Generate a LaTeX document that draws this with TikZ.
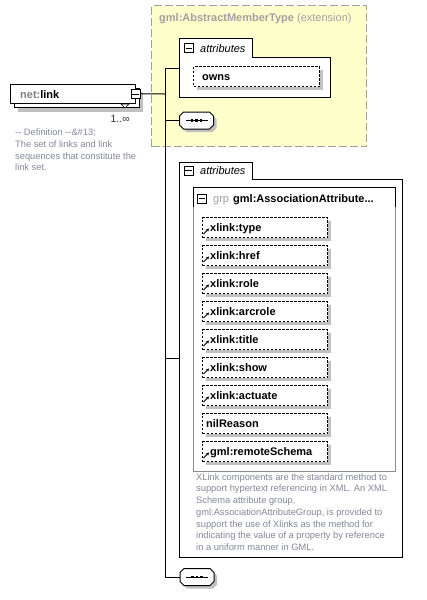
\documentclass[tikz,border=0pt]{standalone}
\usepackage{fontspec}
\setmainfont{Liberation Sans}
\usetikzlibrary{arrows.meta}
\definecolor{ybg}{HTML}{FFFFCC}
\definecolor{yborder}{HTML}{A0A0A0}
\definecolor{shad}{HTML}{C0C0C0}
\definecolor{desc}{HTML}{85879A}
\definecolor{ttl}{HTML}{A0A0A0}
\definecolor{grpline}{HTML}{8C8C8C}
\newcommand{\seqicon}[3]{%
  \begin{scope}[shift={(#2,#3)}]
    \fill[shad] (-10,-5.5) -- (16,-5.5) -- (20,-1.5) -- (20,7.5) -- (16,11.5) -- (-10,11.5) -- (-14,7.5) -- (-14,-1.5) -- cycle;
    \node[inner sep=0pt, minimum width=34pt, minimum height=17pt] (#1) at (0,0) {};
    \draw[line width=1pt, fill=white] (-13,-8.5) -- (13,-8.5) -- (17,-4.5) -- (17,4.5) -- (13,8.5) -- (-13,8.5) -- (-17,4.5) -- (-17,-4.5) -- cycle;
    \draw[line width=1pt] (-11,0) -- (11,0);
    \foreach \dx in {-4.5,0,4.5} \fill ({\dx-1.4},-1.4) rectangle ({\dx+1.4},1.4);
  \end{scope}}
\begin{document}
\begin{tikzpicture}[x=1pt,y=-1pt,
  lbl/.style={font=\fontsize{11}{13}\selectfont\bfseries, anchor=base west, inner sep=0pt},
  desctext/.style={font=\fontsize{9.3}{11.7}\selectfont, text=desc, anchor=base west, inner sep=0pt},
  dbox/.style={draw=black, fill=white, line width=1pt, dash pattern=on 2.5pt off 1.5pt, anchor=north west, inner sep=0pt},
  conn/.style={draw=black, line width=1pt},
  minusbox/.style={draw=black, fill=white, line width=0.8pt, minimum size=9pt, inner sep=0pt, anchor=north west},
  ybox/.style={draw=yborder, fill=ybg, line width=1pt, dash pattern=on 8pt off 3pt, anchor=north west, inner sep=0pt}
]
\useasboundingbox (0,0) rectangle (427,600);

% ---------- extension box ----------
\node[ybox, minimum width=215pt, minimum height=141pt] (ext) at (151,5) {};
\node[anchor=base west, inner sep=0pt, font=\fontsize{11}{13}\selectfont, text=ttl] (extt) at (159,21)
  {\textbf{gml:AbstractMemberType} (extension)};

% upper attributes
\draw[line width=1pt, fill=white] (179,38) -- (252,38) -- (252,57) -- (330,57) -- (330,97) -- (179,97) -- cycle;
\coordinate (uattr) at (179,68);
\node[minusbox] (um) at (184,43) {};
\draw[line width=0.8pt] ([xshift=1.8pt]um.west) -- ([xshift=-1.8pt]um.east);
\node[anchor=base west, inner sep=0pt, font=\fontsize{11}{13}\selectfont\itshape] (uat) at (200,52) {attributes};
\fill[shad] (197,70) rectangle (323,90);
\node[dbox, minimum width=126pt, minimum height=20pt] (owns) at (193,66) {};
\node[lbl] (ownst) at (202,80) {owns};

% sequence 1
\seqicon{seq1}{196.5}{120.5}

% ---------- net:link ----------
\fill[shad] (18,92) rectangle (143,112);
\draw[line width=1pt, fill=white] (14,88) rectangle (139,107);
\node[draw=black, fill=white, line width=1pt, anchor=north west, inner sep=0pt, minimum width=125pt, minimum height=19pt] (nl) at (10,84) {};
\node[anchor=base west, inner sep=0pt, font=\fontsize{11}{13}\selectfont\bfseries] (nlt) at (20,98) {\textcolor{gray}{net:}link};
\node[minusbox] (nm) at (130.5,89) {};
\draw[line width=0.8pt] ([xshift=1.8pt]nm.west) -- ([xshift=-1.8pt]nm.east);
\draw[line width=0.7pt, fill=white] (121,104) -- (129,104) -- (125,108) -- cycle;
\node[anchor=base west, inner sep=0pt, font=\fontsize{10.4}{12}\selectfont, text=black!80] (card) at (110.5,122) {1..∞};
\foreach \t [count=\i] in {-{}- Definition -{}-\&\#13;, The set of links and link, sequences that constitute the, link set.}
  \node[desctext] (ld\i) at (15,{135.6+11.7*(\i-1)}) {\t};

% ---------- lower attributes ----------
\draw[line width=1pt, fill=white] (179,162) -- (252,162) -- (252,179) -- (402,179) -- (402,557) -- (179,557) -- cycle;
\coordinate (lattr) at (179,358);
\node[minusbox] (lm) at (183.5,165.5) {};
\draw[line width=0.8pt] ([xshift=1.8pt]lm.west) -- ([xshift=-1.8pt]lm.east);
\node[anchor=base west, inner sep=0pt, font=\fontsize{11}{13}\selectfont\itshape] (lat) at (200,174) {attributes};

% grp box
\node[draw=grpline, fill=white, line width=1pt, anchor=north west, inner sep=0pt, minimum width=202pt, minimum height=284pt] (grp) at (193,187) {};
\draw[line width=1pt] (193,207) -- (193,187) -- (395,187) -- (395,207);
\node[minusbox] (gm) at (197,193.5) {};
\draw[line width=0.8pt] ([xshift=1.8pt]gm.west) -- ([xshift=-1.8pt]gm.east);
\node[anchor=base west, inner sep=0pt, font=\fontsize{11}{13}\selectfont, text=ttl] (grpt) at (213,202) {grp};
\node[lbl] (grpn) at (233,202) {gml:AssociationAttribute...};

\foreach \t/\a [count=\i] in {xlink:type/1, xlink:href/1, xlink:role/1, xlink:arcrole/1, xlink:title/1, xlink:show/1, xlink:actuate/1, nilReason/0, gml:remoteSchema/1} {
  \pgfmathsetmacro\yy{217+28*(\i-1)}
  \fill[shad] (206,\yy+4) rectangle (331,\yy+24);
  \node[dbox, minimum width=125pt, minimum height=20pt] (ab\i) at (202,\yy) {};
  \ifnum\a=1
    \node[lbl] (al\i) at (210,\yy+14) {\t};
    \draw[line width=1pt, -{Stealth[length=3pt,width=3.2pt]}] (203.5,\yy+17) -- (209,\yy+11.5);
  \else
    \node[lbl] (al\i) at (206,\yy+14) {\t};
  \fi
}
\foreach \t [count=\i] in {XLink components are the standard method to, support hypertext referencing in XML. An XML, {Schema attribute group,}, {gml:AssociationAttributeGroup, is provided to}, support the use of Xlinks as the method for, indicating the value of a property by reference, in a uniform manner in GML.}
  \node[desctext] (gd\i) at (196,{480+11.78*(\i-1)}) {\t};

% sequence 2
\seqicon{seq2}{197}{577}

% ---------- connectors ----------
\coordinate (j0) at (165,94);
\coordinate (jt) at (165,68);
\coordinate (j1) at (165,120.5);
\coordinate (j2) at (165,358);
\coordinate (jb) at (165,577);
\draw[conn] (nm.east) -- (j0);
\draw[conn] (jt) -- (jb);
\draw[conn] (jt) -- (uattr);
\draw[conn] (j1) -- (seq1.west);
\draw[conn] (j2) -- (lattr);
\draw[conn] (jb) -- (seq2.west);
\end{tikzpicture}
\end{document}
